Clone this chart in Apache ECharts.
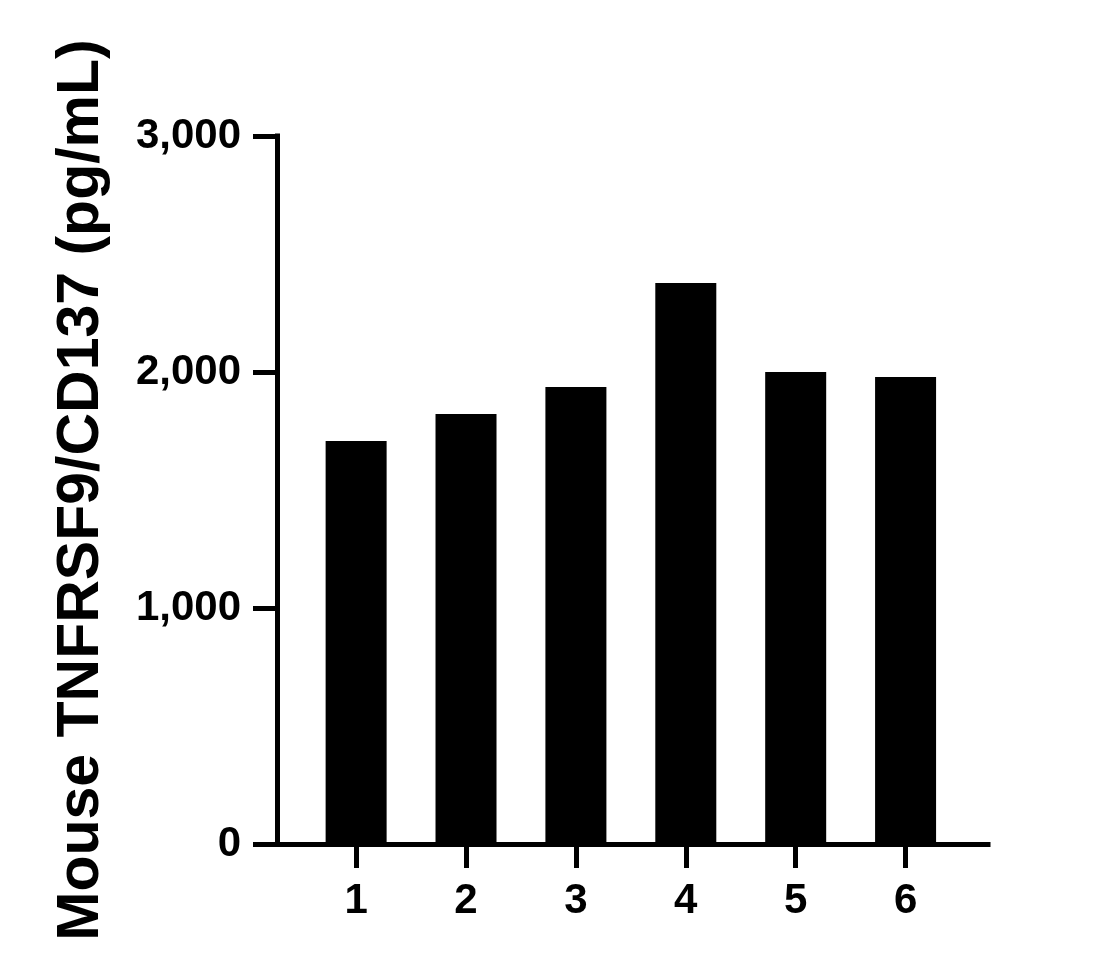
<!DOCTYPE html>
<html>
<head>
<meta charset="utf-8">
<script src="https://cdn.jsdelivr.net/npm/echarts@6/dist/echarts.min.js"></script>
<style>
	html, body { margin: 0; padding: 0; background: #fff; }
	#chart { width: 1119px; height: 980px; }
</style>
</head>
<body>
<div id="chart"></div>
<script>
// sample numbers on the x axis and measured concentrations
var samples = [1, 2, 3, 4, 5, 6];
var concentration = [1708, 1822, 1936, 2377, 2000, 1979];
var yTicks = [0, 1000, 2000, 3000];
var yTitle = "Mouse TNFRSF9/CD137 (pg/mL)";

var chart = echarts.init(document.getElementById("chart"), null, { renderer: "canvas" });

var font = "'Liberation Sans', Arial, sans-serif";
var barData = samples.map(function (s, i) {
	return [s, concentration[i]];
});

var option = {
	animation: false,
	backgroundColor: "#fff",
	grid: {
		left: 277,
		right: 131,
		top: 136,
		bottom: 136
	},
	xAxis: {
		type: "value",
		min: 0.28,
		max: 6.75,
		splitLine: { show: false },
		axisLine: {
			show: true,
			lineStyle: { color: "#000", width: 5, cap: "square" }
		},
		axisTick: {
			show: true,
			length: 24,
			customValues: samples,
			lineStyle: { color: "#000", width: 5 }
		},
		axisLabel: {
			customValues: samples,
			margin: 36,
			color: "#000",
			fontFamily: font,
			fontWeight: "bold",
			fontSize: 42
		}
	},
	yAxis: {
		type: "value",
		min: 0,
		max: 3000,
		interval: 1000,
		name: yTitle,
		nameLocation: "middle",
		nameGap: 166,
		nameRotate: 90,
		nameTextStyle: {
			color: "#000",
			fontFamily: font,
			fontWeight: "bold",
			fontSize: 59
		},
		splitLine: { show: false },
		axisLine: {
			show: true,
			lineStyle: { color: "#000", width: 5, cap: "square" }
		},
		axisTick: {
			show: true,
			length: 24,
			lineStyle: { color: "#000", width: 5 }
		},
		axisLabel: {
			margin: 36,
			color: "#000",
			fontFamily: font,
			fontWeight: "bold",
			fontSize: 42,
			formatter: function (v) {
				return v.toLocaleString("en-US");
			}
		}
	},
	series: [
		{
			type: "bar",
			data: barData,
			barWidth: 61,
			itemStyle: { color: "#000" }
		}
	]
};
chart.setOption(option);
</script>
</body>
</html>
